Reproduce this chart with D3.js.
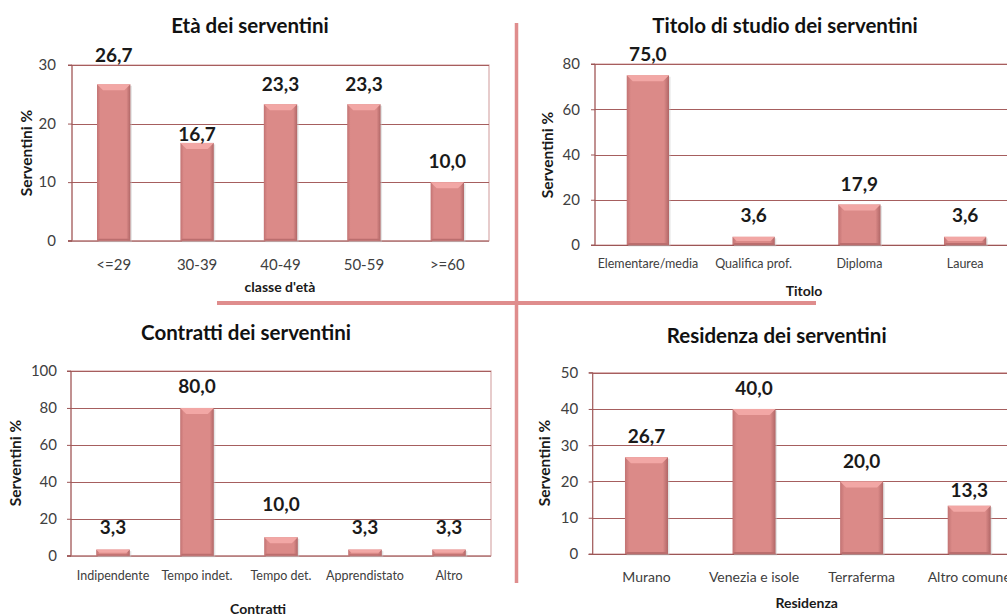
<!DOCTYPE html>
<html>
<head>
<meta charset="utf-8">
<script src="https://cdn.jsdelivr.net/npm/d3@7"></script>
<style>
  html, body { margin: 0; padding: 0; background: #fff; }
  svg { display: block; font-family: Lato, "Open Sans", sans-serif; }
</style>
</head>
<body>
<script>
// ---- data ----
var etaCategories = ["<=29", "30-39", "40-49", "50-59", ">=60"];
var etaValues = [26.7, 16.7, 23.3, 23.3, 10.0];
var etaTicks = [0, 10, 20, 30];

var titoloCategories = ["Elementare/media", "Qualifica prof.", "Diploma", "Laurea"];
var titoloValues = [75.0, 3.6, 17.9, 3.6];
var titoloTicks = [0, 20, 40, 60, 80];

var contrattiCategories = ["Indipendente", "Tempo indet.", "Tempo det.", "Apprendistato", "Altro"];
var contrattiValues = [3.3, 80.0, 10.0, 3.3, 3.3];
var contrattiTicks = [0, 20, 40, 60, 80, 100];

var residenzaCategories = ["Murano", "Venezia e isole", "Terraferma", "Altro comune"];
var residenzaValues = [26.7, 40.0, 20.0, 13.3];
var residenzaTicks = [0, 10, 20, 30, 40, 50];

var fmt = function(v){ return d3.format(".1f")(v).replace(".", ","); };

var W = 1007, H = 615;
var svg = d3.select("body").append("svg").attr("width", W).attr("height", H);

// bar gradient
var defs = svg.append("defs");
var grad = defs.append("linearGradient").attr("id", "barGrad").attr("x1", 0).attr("x2", 1).attr("y1", 0).attr("y2", 0);
grad.append("stop").attr("offset", "0%").attr("stop-color", "#c27373");
grad.append("stop").attr("offset", "10%").attr("stop-color", "#db8a88");
grad.append("stop").attr("offset", "88%").attr("stop-color", "#db8a88");
grad.append("stop").attr("offset", "100%").attr("stop-color", "#b06666");

// separator cross
svg.append("line").attr("x1", 516.5).attr("x2", 516.5).attr("y1", 23).attr("y2", 583)
  .attr("stroke", "#df8d8d").attr("stroke-width", 3.5);
svg.append("line").attr("x1", 217).attr("x2", 816).attr("y1", 303).attr("y2", 303)
  .attr("stroke", "#df8d8d").attr("stroke-width", 4);

function drawPanel(p) {
  var g = svg.append("g");
  var x = d3.scaleBand().domain(p.categories).range([p.left, p.right]).paddingInner(0.6).paddingOuter(0.3);
  var y = d3.scaleLinear().domain([0, d3.max(p.ticks)]).range([p.bottom, p.top]);

  // border
  g.append("rect").attr("x", p.left).attr("y", p.top)
    .attr("width", p.right - p.left).attr("height", p.bottom - p.top)
    .attr("fill", "none").attr("stroke", "#d7aaaa").attr("stroke-width", 1.2);

  // gridlines
  g.selectAll(".grid").data(p.ticks.filter(function(t){ return t > 0; })).enter().append("line")
    .attr("x1", p.left).attr("x2", p.right)
    .attr("y1", function(d){ return Math.round(y(d)) + 0.5; })
    .attr("y2", function(d){ return Math.round(y(d)) + 0.5; })
    .attr("stroke", "#a65e5e").attr("stroke-width", 1);

  // y axis
  var ya = g.append("g").attr("transform", "translate(" + p.left + ",0)")
    .call(d3.axisLeft(y).tickValues(p.ticks).tickSize(4).tickPadding(p.tickPad).tickFormat(d3.format("d")));
  ya.select(".domain").attr("stroke", "#9c5656").attr("d", "M-4," + p.bottom + "H0V" + p.top + "H-4");
  ya.selectAll(".tick line").attr("stroke", "#9c5656");
  ya.selectAll("text").attr("font-size", 15).attr("fill", "#404040").attr("font-family", "Lato, sans-serif");

  // x axis line
  var xa = g.append("g").attr("transform", "translate(0," + p.bottom + ")")
    .call(d3.axisBottom(x).tickSize(0));
  xa.select(".domain").attr("stroke", "#9c5656").attr("d", "M" + (p.left - 4) + ",0.5H" + p.right);
  xa.selectAll("text").attr("dy", null).attr("y", p.catOffset)
    .attr("font-size", p.catSize).attr("fill", "#404040").attr("font-family", "Lato, sans-serif");

  // bars
  var bw = x.bandwidth();
  var bars = g.selectAll(".bar").data(p.values).enter().append("g");
  bars.append("rect")
    .attr("x", function(d, i){ return x(p.categories[i]) + 1.5; })
    .attr("y", function(d){ return y(d) + 1.5; })
    .attr("width", bw).attr("height", function(d){ return p.bottom - y(d); })
    .attr("fill", "#c4c4c4").attr("opacity", 0.45);
  bars.append("rect")
    .attr("x", function(d, i){ return x(p.categories[i]); })
    .attr("y", function(d){ return y(d); })
    .attr("width", bw).attr("height", function(d){ return p.bottom - y(d); })
    .attr("fill", "url(#barGrad)");
  bars.append("path")
    .attr("d", function(d, i){
      var x0 = x(p.categories[i]), x1 = x0 + bw, y0 = y(d);
      var b = Math.min(6, (p.bottom - y0) / 2);
      return "M" + x0 + "," + y0 + "H" + x1 + "L" + (x1 - b) + "," + (y0 + b) + "H" + (x0 + b) + "Z";
    })
    .attr("fill", "#f2a7a5");
  bars.append("path")
    .attr("d", function(d, i){
      var x0 = x(p.categories[i]), x1 = x0 + bw, y0 = y(d);
      var b = Math.min(2, (p.bottom - y0) / 4);
      return "M" + x0 + "," + p.bottom + "H" + x1 + "L" + (x1 - b) + "," + (p.bottom - b) + "H" + (x0 + b) + "Z";
    })
    .attr("fill", "#bb6e6e");

  // value labels
  g.selectAll(".val").data(p.values).enter().append("text")
    .attr("x", function(d, i){ return x(p.categories[i]) + bw / 2; })
    .attr("y", function(d, i){ return y(d) - p.labelGap[i]; })
    .attr("text-anchor", "middle").attr("font-size", 19).attr("font-weight", "bold")
    .attr("fill", "#1a1a1a")
    .text(function(d){ return fmt(d); });

  // titles
  g.append("text").attr("x", p.titleX).attr("y", p.titleY).attr("text-anchor", "middle")
    .attr("font-size", 20.5).attr("font-weight", "bold").attr("fill", "#111").text(p.title);
  g.append("text").attr("x", p.xTitleX).attr("y", p.xTitleY).attr("text-anchor", "middle")
    .attr("font-size", 14).attr("font-weight", "bold").attr("fill", "#1a1a1a").text(p.xTitle);
  g.append("text").attr("transform", "translate(" + p.yTitleX + "," + p.yTitleY + ") rotate(-90)")
    .attr("text-anchor", "middle").attr("font-size", 15.5).attr("font-weight", "bold")
    .attr("fill", "#1a1a1a").text("Serventini %");
}

drawPanel({
  categories: etaCategories, values: etaValues, ticks: etaTicks,
  left: 72, right: 489, top: 65, bottom: 240.7, tickPad: 12, catOffset: 29, catSize: 15,
  labelGap: [22, 2, 13, 13, 14],
  title: "Età dei serventini", titleX: 250, titleY: 33,
  xTitle: "classe d'età", xTitleX: 280, xTitleY: 292, yTitleX: 32, yTitleY: 153
});
drawPanel({
  categories: titoloCategories, values: titoloValues, ticks: titoloTicks,
  left: 595, right: 1018, top: 64, bottom: 245, tickPad: 11, catOffset: 23, catSize: 12.5,
  labelGap: [14, 15, 14, 15],
  title: "Titolo di studio dei serventini", titleX: 785, titleY: 33,
  xTitle: "Titolo", xTitleX: 804, xTitleY: 296, yTitleX: 553, yTitleY: 155
});
drawPanel({
  categories: contrattiCategories, values: contrattiValues, ticks: contrattiTicks,
  left: 71, right: 491, top: 371, bottom: 555.7, tickPad: 10, catOffset: 24, catSize: 12.5,
  labelGap: [15.5, 15, 26, 15.5, 15.5],
  title: "Contratti dei serventini", titleX: 246, titleY: 340,
  xTitle: "Contratti", xTitleX: 258, xTitleY: 614, yTitleX: 21, yTitleY: 463
});
drawPanel({
  categories: residenzaCategories, values: residenzaValues, ticks: residenzaTicks,
  left: 592.7, right: 1023, top: 372.7, bottom: 554, tickPad: 10.5, catOffset: 27.7, catSize: 14,
  labelGap: [14, 13.7, 13.4, 9],
  title: "Residenza dei serventini", titleX: 776.7, titleY: 342.5,
  xTitle: "Residenza", xTitleX: 806.7, xTitleY: 608, yTitleX: 550, yTitleY: 463
});
</script>
</body>
</html>
